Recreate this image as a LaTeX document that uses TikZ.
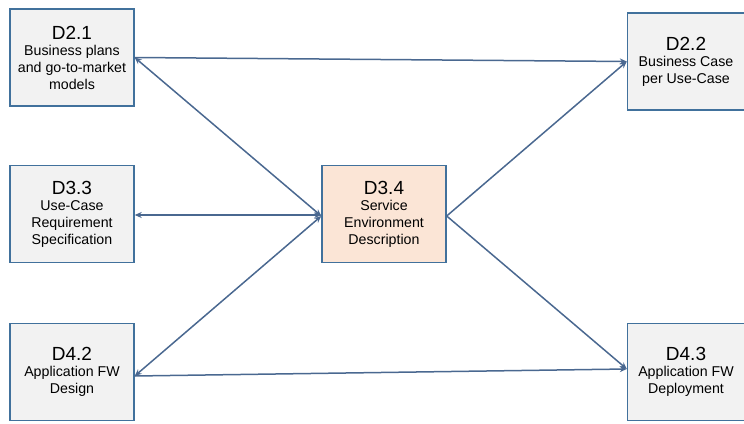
\documentclass[tikz,border=0pt]{standalone}
\usepackage{fontspec}
\setmainfont{Liberation Sans}
\usetikzlibrary{arrows.meta}
\definecolor{boxline}{HTML}{41719C}
\definecolor{boxfill}{HTML}{F2F2F2}
\definecolor{hifill}{HTML}{FBE5D6}
\definecolor{conn}{HTML}{4A6890}
\tikzset{
  dbox/.style={draw=boxline, line width=1.4pt, fill=boxfill, minimum width=124pt, minimum height=97pt, inner sep=0pt, align=center, font=\fontsize{14.2}{17}\selectfont},
  conline/.style={draw=conn, line width=1.5pt},
  tip/.style={-{Stealth[length=7pt,width=6pt]}},
  tips/.style={{Stealth[length=7pt,width=6pt]}-{Stealth[length=7pt,width=6pt]}}
}
\newcommand{\ttl}[1]{{\fontsize{19}{21}\selectfont #1}\\[-1pt]}
\begin{document}
\begin{tikzpicture}[x=1pt,y=-1pt]
\useasboundingbox (0,0) rectangle (744,423);
\node[dbox] (d21) at (72,57.5) {\ttl{D2.1}Business plans\\and go-to-market\\models};
\node[dbox, minimum width=117pt] (d22) at (686,61.5) {\ttl{D2.2}Business Case\\per Use-Case};
\node[dbox] (d33) at (72,214) {\ttl{D3.3}Use-Case\\Requirement\\Specification};
\node[dbox, fill=hifill] (d34) at (384,214) {\ttl{D3.4}Service\\Environment\\Description};
\node[dbox] (d42) at (72,372) {\ttl{D4.2}Application FW\\Design};
\node[dbox, minimum width=117pt] (d43) at (686,372) {\ttl{D4.3}Application FW\\Deployment};
\draw[conline, tip] (d21.east) -- (d22.west);
\draw[conline, tips] (d21.east) -- ([yshift=-2pt]d34.west);
\draw[conline, tips] ([yshift=-1pt]d33.east) -- ([yshift=-1pt]d34.west);
\draw[conline, tips] ([yshift=-4pt]d42.east) -- ([yshift=-2pt]d34.west);
\draw[conline, tip] ([yshift=-4pt]d42.east) -- ([yshift=3pt]d43.west);
\draw[conline, tip] ([yshift=-2pt]d34.east) -- (d22.west);
\draw[conline, tip] ([yshift=-2pt]d34.east) -- ([yshift=3pt]d43.west);
\end{tikzpicture}
\end{document}
